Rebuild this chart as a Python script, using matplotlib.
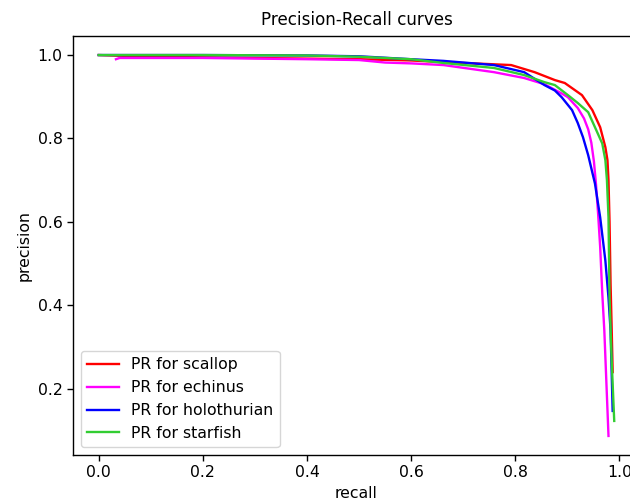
import matplotlib
matplotlib.use("Agg")
import matplotlib.pyplot as plt

scallop_recall = [0.0, 0.1, 0.3, 0.5, 0.6, 0.662, 0.72, 0.792, 0.837, 0.876, 0.895, 0.928, 0.948, 0.963, 0.973, 0.977, 0.979, 0.981, 0.983, 0.985, 0.987]
scallop_prec = [1.0, 0.996, 0.993, 0.99, 0.987, 0.983, 0.98, 0.976, 0.959, 0.940, 0.933, 0.904, 0.868, 0.827, 0.779, 0.748, 0.70, 0.60, 0.45, 0.35, 0.24]

echinus_recall = [0.033, 0.04, 0.2, 0.4, 0.5, 0.55, 0.6, 0.662, 0.759, 0.817, 0.856, 0.889, 0.901, 0.920, 0.932, 0.940, 0.946, 0.951, 0.955, 0.959, 0.963, 0.967, 0.971, 0.979]
echinus_prec = [0.99, 0.993, 0.993, 0.99, 0.988, 0.982, 0.98, 0.976, 0.959, 0.945, 0.930, 0.908, 0.899, 0.873, 0.848, 0.822, 0.790, 0.745, 0.690, 0.620, 0.540, 0.430, 0.339, 0.087]

holo_recall = [0.0, 0.2, 0.4, 0.5, 0.6, 0.662, 0.759, 0.817, 0.856, 0.876, 0.889, 0.909, 0.920, 0.930, 0.940, 0.953, 0.963, 0.973, 0.979, 0.983, 0.987]
holo_prec = [1.0, 1.0, 0.999, 0.997, 0.99, 0.986, 0.976, 0.959, 0.928, 0.915, 0.899, 0.868, 0.837, 0.803, 0.760, 0.692, 0.611, 0.507, 0.418, 0.339, 0.147]

star_recall = [0.0, 0.2, 0.4, 0.5, 0.6, 0.662, 0.759, 0.817, 0.856, 0.876, 0.901, 0.920, 0.940, 0.953, 0.967, 0.973, 0.976, 0.979, 0.981, 0.985, 0.990]
star_prec = [1.0, 1.0, 0.999, 0.996, 0.99, 0.981, 0.969, 0.952, 0.935, 0.928, 0.904, 0.885, 0.863, 0.827, 0.788, 0.748, 0.70, 0.611, 0.418, 0.27, 0.123]

series = [
    ("PR for scallop", scallop_recall, scallop_prec, "red"),
    ("PR for echinus", echinus_recall, echinus_prec, "magenta"),
    ("PR for holothurian", holo_recall, holo_prec, "blue"),
    ("PR for starfish", star_recall, star_prec, "limegreen"),
]

fs = 11.3
fig = plt.figure(figsize=(6.3, 5.03), dpi=100)
ax = fig.add_axes([73/630, 1 - 455/503, (640 - 73)/630, (455 - 36)/503])
for label, r, p, c in series:
    ax.plot(r, p, color=c, label=label, linewidth=1.7)

ax.set_xticks([0.0, 0.2, 0.4, 0.6, 0.8, 1.0])
ax.set_yticks([0.2, 0.4, 0.6, 0.8, 1.0])
ax.tick_params(labelsize=fs, length=4, width=1)
for s in ax.spines.values():
    s.set_linewidth(1.0)
ax.set_xlabel("recall", fontsize=fs)
ax.set_ylabel("precision", fontsize=fs)
ax.set_title("Precision-Recall curves", fontsize=fs * 1.07, pad=8)
ax.legend(loc="lower left", fontsize=fs, handlelength=2.0)

fig.savefig("out.png", dpi=100)
